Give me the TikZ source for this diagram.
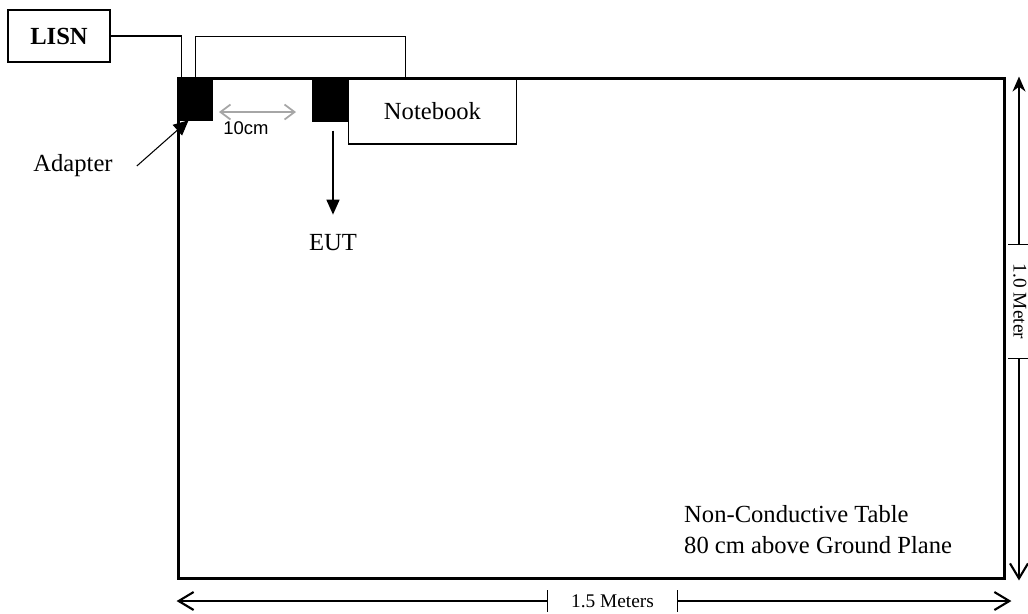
\documentclass[tikz,border=0pt]{standalone}
\usepackage{fontspec}
\setmainfont{Liberation Serif}
\setsansfont{Liberation Sans}
\usetikzlibrary{arrows.meta, positioning}

\begin{document}
\begin{tikzpicture}[x=0.02cm, y=-0.02cm,
  box/.style={draw, line width=0.9pt, inner sep=0pt, align=center, font=\fontsize{14}{17}\selectfont},
  unit/.style={draw, fill=black, minimum width=0.7cm, minimum height=0.86cm, inner sep=0pt, anchor=north west},
  wire/.style={line width=0.9pt},
  txt/.style={font=\fontsize{14}{17.6}\selectfont, align=left},
  dimlbl/.style={font=\fontsize{11}{13}\selectfont, inner sep=0pt, minimum height=0.42cm},
  dim/.style={{Straight Barb[length=3mm, width=3.6mm, line width=1.2pt]}-, line width=0.9pt},
  pointer/.style={-{Triangle[length=3mm, width=2.6mm]}, line width=0.9pt}
]
\useasboundingbox (0,0) rectangle (1028,613);

% Table and units on it
\node[draw, line width=1.7pt, minimum width=16.54cm, minimum height=10.02cm, inner sep=0pt] (table) at (591.5,328.5) {};
\node[box, minimum width=2.04cm, minimum height=1.04cm, font=\bfseries\fontsize{14}{17}\selectfont] (lisn) at (59,36) {LISN};
\node[unit] (adapter) at (table.north west) {};
\node[unit] (eut) at (312,78) {};
\node[box, minimum width=3.36cm, minimum height=1.3cm, anchor=north west] (nb) at (eut.north east) {Notebook};

% Cables
\draw[wire] (lisn.east) -| ([xshift=0.1cm]adapter.north west);
\draw[wire] ([xshift=0.38cm]adapter.north west) -- ++(0,-40) -| ([xshift=1.16cm]nb.north west);

% Labels
\node[font=\sffamily\fontsize{10.5}{12}\selectfont, inner sep=0pt] (gap) at (246,128) {10cm};
\draw[gray!70, line width=1pt, {Straight Barb[length=2mm, width=3mm]}-{Straight Barb[length=2mm, width=3mm]}] (219,112) -- (296,112);
\node[txt] (eutlbl) at (333,243) {EUT};
\draw[pointer] ([yshift=-0.18cm]eutlbl.north |- eut.south) -- ([yshift=0.28cm]eutlbl.north);
\node[txt] (adlbl) at (73,166) {Adapter};
\draw[-{Triangle[length=3mm, width=2.8mm]}, line width=0.6pt] ([xshift=0.36cm]adlbl.east) -- ([xshift=0.24cm]adapter.south west);
\node[txt, anchor=west] (note) at (678,530) {Non-Conductive Table\\80 cm above Ground Plane};

% Dimensions
\node[dimlbl, minimum width=2.58cm] (wlbl) at (612.5,601) {1.5 Meters};
\draw[line width=0.9pt] (wlbl.north west) -- (wlbl.south west) (wlbl.north east) -- (wlbl.south east);
\draw[dim] (wlbl.west -| table.south west) -- (wlbl.west);
\draw[dim] ([xshift=0.1cm]wlbl.east -| table.south east) -- (wlbl.east);
\node[dimlbl, rotate=-90, minimum width=2.26cm] (hlbl) at (1020,301.5) {1.0 Meter};
\draw[line width=0.9pt] ([xshift=-0.24cm]hlbl.west) -- ++(0.5cm,0) ([xshift=-0.24cm]hlbl.east) -- ++(0.5cm,0);
\draw[-{Stealth[length=3mm, width=2.6mm]}, line width=0.9pt] ([xshift=-0.02cm]hlbl.west) -- ([xshift=-0.02cm]hlbl.west |- table.north east);
\draw[dim] ([xshift=-0.02cm]hlbl.east |- table.south east) -- ([xshift=-0.02cm]hlbl.east);
\end{tikzpicture}
\end{document}
